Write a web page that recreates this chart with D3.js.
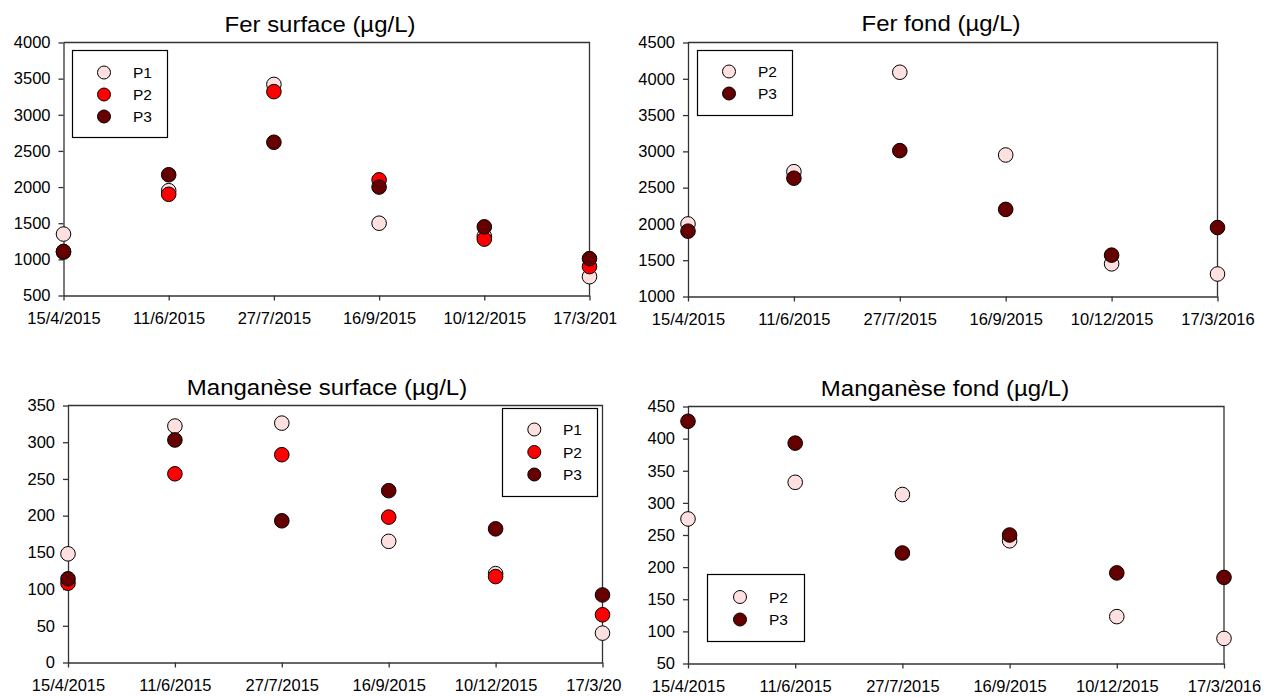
<!DOCTYPE html>
<html>
<head>
<meta charset="utf-8">
<script src="https://cdn.jsdelivr.net/npm/d3@7"></script>
<style>
  html, body { margin: 0; padding: 0; background: #ffffff; }
  svg { display: block; }
  text { font-family: "Liberation Sans", Arial, sans-serif; fill: #000; }
</style>
</head>
<body>
<svg id="chart" width="1266" height="697"></svg>
<script>
// ---- Data ----
const dates = ["15/4/2015", "11/6/2015", "27/7/2015", "16/9/2015", "10/12/2015", "17/3/2016"];

const ferSurfaceP1 = [1350, 1950, 3420, 1500, 1320, 760];
const ferSurfaceP2 = [1100, 1900, 3320, 2100, 1280, 900];
const ferSurfaceP3 = [1110, 2170, 2620, 2000, 1450, 1010];

const ferFondP2 = [2000, 2720, 4090, 2950, 1450, 1310];
const ferFondP3 = [1900, 2630, 3010, 2200, 1570, 1950];

const mnSurfaceP1 = [148, 322, 326, 165, 121, 40];
const mnSurfaceP2 = [108, 257, 283, 198, 117, 65];
const mnSurfaceP3 = [114, 303, 193, 234, 182, 92];

const mnFondP2 = [275, 332, 313, 241, 123, 89];
const mnFondP3 = [427, 393, 222, 250, 191, 184];

const ferSurfaceTicks = [500, 1000, 1500, 2000, 2500, 3000, 3500, 4000];
const ferFondTicks = [1000, 1500, 2000, 2500, 3000, 3500, 4000, 4500];
const mnSurfaceTicks = [0, 50, 100, 150, 200, 250, 300, 350];
const mnFondTicks = [50, 100, 150, 200, 250, 300, 350, 400, 450];

const titles = ["Fer surface (µg/L)", "Fer fond (µg/L)", "Manganèse surface (µg/L)", "Manganèse fond (µg/L)"];

// ---- Styles ----
const colors = { P1: "#ffe0e0", P2: "#ff0000", P3: "#660000" };
const frameColor = "#333333";
const tickFont = 16.5;
const legendFont = 15.5;

// ---- Panels (layout) ----
const panels = [
  { title: titles[0], ticks: ferSurfaceTicks,
    series: [["P1", ferSurfaceP1], ["P2", ferSurfaceP2], ["P3", ferSurfaceP3]],
    box: { l: 63.5, r: 589.5, t: 42.5, b: 295.5 }, clip: [0, 616.5],
    titleX: 320, titleY: 32,
    legend: { x: 72.5, y: 50.5, w: 95, h: 87, mx: 104, tx: 133, rows: [72.5, 94.5, 116.5] } },
  { title: titles[1], ticks: ferFondTicks,
    series: [["P2", ferFondP2], ["P3", ferFondP3]],
    box: { l: 688, r: 1217.5, t: 42.5, b: 296.5 }, clip: [630, 1266],
    titleX: 941, titleY: 31,
    legend: { x: 697.5, y: 50.5, w: 95, h: 65, mx: 729, tx: 758, rows: [71.5, 93.5], colorKeys: ["P1", "P3"] } },
  { title: titles[2], ticks: mnSurfaceTicks,
    series: [["P1", mnSurfaceP1], ["P2", mnSurfaceP2], ["P3", mnSurfaceP3]],
    box: { l: 68, r: 602.5, t: 405.5, b: 662.5 }, clip: [0, 622.5],
    titleX: 327, titleY: 395,
    legend: { x: 502.5, y: 408.5, w: 95, h: 88, mx: 534.3, tx: 563, rows: [429.5, 452, 474.5] } },
  { title: titles[3], ticks: mnFondTicks,
    series: [["P2", mnFondP2], ["P3", mnFondP3]],
    box: { l: 688, r: 1224, t: 406.5, b: 663.5 }, clip: [630, 1266],
    titleX: 945, titleY: 396,
    legend: { x: 707.5, y: 574.5, w: 97, h: 67, mx: 740, tx: 769, rows: [597, 619.5], colorKeys: ["P1", "P3"] } }
];

const svg = d3.select("#chart");
svg.append("rect").attr("width", 1266).attr("height", 697).attr("fill", "#fff");

const defs = svg.append("defs");

panels.forEach((p, i) => {
  defs.append("clipPath").attr("id", "clip" + i)
    .append("rect").attr("x", p.clip[0]).attr("y", 0)
    .attr("width", p.clip[1] - p.clip[0]).attr("height", 697);

  const g = svg.append("g").attr("clip-path", `url(#clip${i})`);
  const B = p.box;

  const x = d3.scalePoint().domain(dates).range([B.l, B.r]).padding(0);
  const y = d3.scaleLinear().domain(d3.extent(p.ticks)).range([B.b, B.t]);

  // Title
  g.append("text")
    .attr("transform", `translate(${p.titleX},${p.titleY}) scale(1.09,1)`)
    .attr("text-anchor", "middle").attr("font-size", 22).text(p.title);

  // Frame (top & right)
  g.append("path")
    .attr("d", `M${B.l},${B.t}H${B.r}V${B.b}`)
    .attr("fill", "none").attr("stroke", frameColor).attr("stroke-width", 1.3);

  // Y axis
  const yAxis = d3.axisLeft(y).tickValues(p.ticks).tickSize(5).tickSizeOuter(0).tickPadding(8)
    .tickFormat(d3.format("d"));
  const yg = g.append("g").attr("transform", `translate(${B.l},0)`).call(yAxis);
  yg.select(".domain").attr("stroke", frameColor).attr("stroke-width", 1.3);
  yg.selectAll(".tick line").attr("stroke", frameColor).attr("stroke-width", 1.3);
  yg.selectAll(".tick text").attr("font-size", tickFont).attr("fill", "#000")
    .attr("font-family", "'Liberation Sans', Arial, sans-serif");

  // X axis
  const xAxis = d3.axisBottom(x).tickSize(5).tickSizeOuter(0).tickPadding(12);
  const xg = g.append("g").attr("transform", `translate(0,${B.b})`).call(xAxis);
  xg.select(".domain").attr("stroke", frameColor).attr("stroke-width", 1.3);
  xg.selectAll(".tick line").attr("stroke", frameColor).attr("stroke-width", 1.3);
  xg.selectAll(".tick text").attr("font-size", tickFont).attr("fill", "#000")
    .attr("font-family", "'Liberation Sans', Arial, sans-serif");

  // Points
  p.series.forEach(([name, vals], si) => {
    const ck = p.legend.colorKeys ? p.legend.colorKeys[si] : name;
    g.append("g").selectAll("circle").data(vals).join("circle")
      .attr("cx", (d, j) => x(dates[j]))
      .attr("cy", d => y(d))
      .attr("r", 7.3)
      .attr("fill", colors[ck])
      .attr("stroke", "#000").attr("stroke-width", 1);
  });

  // Legend
  const L = p.legend;
  g.append("rect").attr("x", L.x).attr("y", L.y).attr("width", L.w).attr("height", L.h)
    .attr("fill", "#fff").attr("stroke", "#000").attr("stroke-width", 1.2);
  p.series.forEach(([name], si) => {
    const ck = L.colorKeys ? L.colorKeys[si] : name;
    g.append("circle").attr("cx", L.mx).attr("cy", L.rows[si]).attr("r", 6.5)
      .attr("fill", colors[ck]).attr("stroke", "#000").attr("stroke-width", 1);
    g.append("text").attr("x", L.tx).attr("y", L.rows[si]).attr("dy", "0.36em")
      .attr("font-size", legendFont).text(name);
  });
});
</script>
</body>
</html>
